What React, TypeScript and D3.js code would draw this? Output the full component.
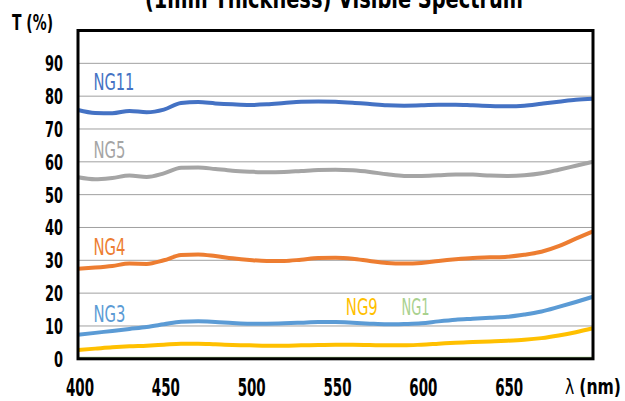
import React from "react";
import * as d3 from "d3";

// wavelengths in nm, 10 nm steps
const wavelengths = d3.range(400, 701, 10);

const ng11 = [75.8, 74.9, 74.8, 75.5, 75.1, 75.9, 77.9, 78.2, 77.8, 77.5, 77.3, 77.5, 77.9, 78.3, 78.4, 78.3, 78.0, 77.6, 77.2, 77.1, 77.2, 77.4, 77.4, 77.2, 77.0, 76.9, 77.1, 77.7, 78.3, 78.9, 79.2];
const ng5 = [55.3, 54.7, 55.1, 55.8, 55.4, 56.5, 58.2, 58.3, 57.8, 57.3, 57.0, 56.8, 56.9, 57.2, 57.5, 57.6, 57.4, 56.9, 56.2, 55.7, 55.7, 55.9, 56.1, 56.1, 55.8, 55.7, 55.9, 56.5, 57.6, 58.8, 60.0];
const ng4 = [27.4, 27.8, 28.3, 29.0, 28.9, 30.0, 31.6, 31.8, 31.3, 30.6, 30.1, 29.8, 29.8, 30.2, 30.7, 30.8, 30.5, 29.8, 29.2, 29.0, 29.2, 29.8, 30.3, 30.7, 30.9, 31.1, 31.7, 32.6, 34.3, 36.6, 38.8];
const ng3 = [7.3, 7.9, 8.5, 9.1, 9.7, 10.5, 11.3, 11.4, 11.2, 10.9, 10.7, 10.7, 10.8, 11.0, 11.2, 11.2, 11.0, 10.7, 10.5, 10.6, 10.8, 11.4, 11.9, 12.2, 12.5, 12.8, 13.5, 14.4, 15.8, 17.3, 18.9];
const ng9 = [2.7, 3.1, 3.5, 3.8, 4.0, 4.3, 4.6, 4.6, 4.4, 4.2, 4.1, 4.0, 4.0, 4.1, 4.2, 4.3, 4.3, 4.2, 4.1, 4.1, 4.3, 4.6, 4.9, 5.1, 5.3, 5.5, 5.8, 6.3, 7.1, 8.1, 9.3];
const ng1 = [0.3, 0.3, 0.3, 0.3, 0.3, 0.3, 0.3, 0.3, 0.3, 0.3, 0.3, 0.3, 0.3, 0.3, 0.3, 0.3, 0.3, 0.3, 0.3, 0.3, 0.3, 0.3, 0.3, 0.3, 0.3, 0.3, 0.3, 0.3, 0.3, 0.3, 0.3];

const yTicks = [0, 10, 20, 30, 40, 50, 60, 70, 80, 90];
const xTicks = [400, 450, 500, 550, 600, 650];

// label anchors in data units (nm, %)
const series = [
  { name: "NG11", values: ng11, color: "#4472c4", width: 4, labelX: 409, labelY: 81.9, labelW: 41 },
  { name: "NG5", values: ng5, color: "#a5a5a5", width: 4, labelX: 409, labelY: 61.2, labelW: 32 },
  { name: "NG4", values: ng4, color: "#ed7d31", width: 4, labelX: 409, labelY: 31.6, labelW: 32 },
  { name: "NG3", values: ng3, color: "#5b9bd5", width: 4, labelX: 409, labelY: 11.2, labelW: 32 },
  { name: "NG9", values: ng9, color: "#ffc000", width: 4, labelX: 556, labelY: 13.3, labelW: 32 },
  { name: "NG1", values: ng1, color: "#a9d18e", width: 2, labelX: 588.5, labelY: 13.3, labelW: 28 },
];

const FONT = "'DejaVu Sans Condensed', 'Liberation Sans Narrow', sans-serif";

export default function App() {
  const width = 625;
  const height = 401;
  const left = 78;
  const right = 593;
  const top = 30.5;
  const bottom = 358.8;

  const x = d3.scaleLinear().domain([400, 700]).range([left, right]);
  const y = d3.scaleLinear().domain([0, 100]).range([bottom, top]);

  const line = d3
    .line<number>()
    .x((_, i) => x(wavelengths[i]))
    .y((d) => y(d))
    .curve(d3.curveMonotoneX);

  return (
    <svg width={width} height={height} style={{ position: "absolute", left: 0, top: 0, background: "#fff" }}>
      <text x={334} y={8} textAnchor="middle" fontFamily={FONT} fontWeight="bold" fontSize={26} textLength={378} lengthAdjust="spacingAndGlyphs">
        (1mm Thickness) Visible Spectrum
      </text>
      <text x={12} y={30} fontFamily={FONT} fontWeight="bold" fontSize={22} textLength={41} lengthAdjust="spacingAndGlyphs">
        T (%)
      </text>

      {yTicks.slice(1).map((t) => (
        <line key={t} x1={left} x2={right} y1={y(t)} y2={y(t)} stroke="#a0a0a0" strokeWidth={1} />
      ))}

      {series
        .slice()
        .reverse()
        .map((s) => (
          <path key={s.name} d={line(s.values) || ""} fill="none" stroke={s.color} strokeWidth={s.width} strokeLinejoin="round" />
        ))}

      {series.map((s) => (
        <text key={s.name} x={x(s.labelX)} y={y(s.labelY)} fill={s.color} fontFamily={FONT} fontSize={23} textLength={s.labelW} lengthAdjust="spacingAndGlyphs">
          {s.name}
        </text>
      ))}

      <rect x={left} y={top} width={right - left} height={bottom - top} fill="none" stroke="#000" strokeWidth={3} />

      {yTicks.map((t) => (
        <text key={t} x={63} y={y(t) + 8} textAnchor="end" fontFamily={FONT} fontWeight="bold" fontSize={22} textLength={String(t).length * 9} lengthAdjust="spacingAndGlyphs">
          {t}
        </text>
      ))}

      {xTicks.map((t) => (
        <text key={t} x={x(t) + 2} y={396} textAnchor="middle" fontFamily={FONT} fontWeight="bold" fontSize={24} textLength={28} lengthAdjust="spacingAndGlyphs">
          {t}
        </text>
      ))}
      <text x={565} y={394} fontFamily={FONT} fontSize={22} textLength={56} lengthAdjust="spacingAndGlyphs">
        <tspan>λ </tspan>
        <tspan fontWeight="bold">(nm)</tspan>
      </text>
    </svg>
  );
}
